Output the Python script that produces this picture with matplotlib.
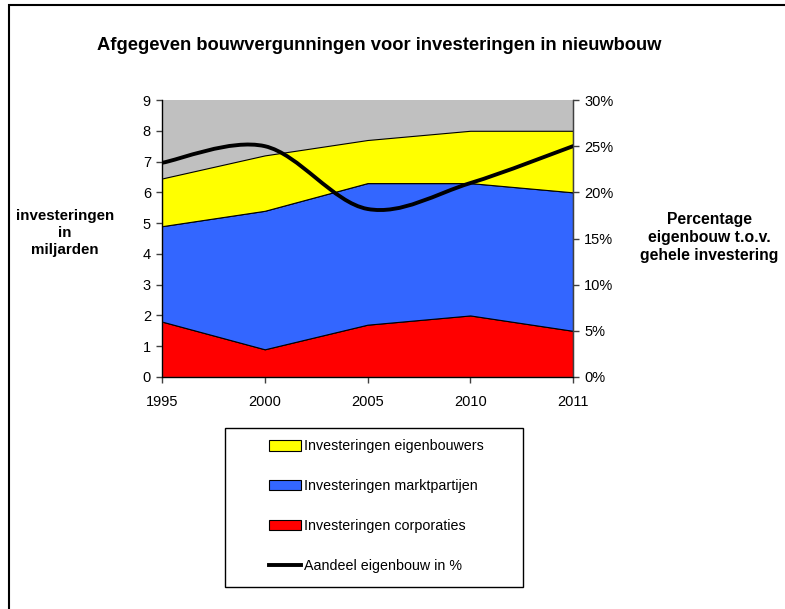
import matplotlib
matplotlib.use('Agg')
import matplotlib.pyplot as plt
from matplotlib.path import Path
from matplotlib.patches import PathPatch, Rectangle, Patch
from matplotlib.lines import Line2D
from matplotlib.ticker import FuncFormatter
import numpy as np

plt.rcParams['font.family'] = ['Liberation Sans', 'DejaVu Sans']

# gegevens (miljarden euro)
jaren = ['1995', '2000', '2005', '2010', '2011']
corporaties = [1.8, 0.9, 1.7, 2.0, 1.5]
marktpartijen = [3.1, 4.5, 4.6, 4.3, 4.5]
eigenbouwers = [1.55, 1.8, 1.4, 1.7, 2.0]
aandeel_eigenbouw = [23.2, 25.0, 18.2, 21.0, 25.0]  # procent

W, H = 785, 609
fig = plt.figure(figsize=(W / 100, H / 100), dpi=100)

# plotgebied in pixels
links, rechts, boven, onder = 162, 573, 100, 377
ax = fig.add_axes([links / W, 1 - onder / H, (rechts - links) / W, (onder - boven) / H])

x = np.arange(len(jaren))
ax.set_facecolor('#C0C0C0')
ax.stackplot(x, corporaties, marktpartijen, eigenbouwers,
             colors=['#FF0000', '#3366FF', '#FFFF00'],
             edgecolor='black', linewidth=0.8)
ax.set_xlim(0, len(jaren) - 1)
ax.set_ylim(0, 9)
ax.set_yticks(range(0, 10))
ax.set_xticks(x)
ax.set_xticklabels(jaren)
ax.spines['top'].set_visible(False)
for s in ['left', 'bottom', 'right']:
    ax.spines[s].set_color('#404040')
    ax.spines[s].set_linewidth(1.0)
ax.tick_params(axis='both', labelsize=10.5, length=4, width=1, color='#404040')
ax.tick_params(axis='x', pad=9)
ax.tick_params(axis='y', pad=4)

# tweede as voor het percentage
ax2 = ax.twinx()
ax2.set_ylim(0, 30)
ax2.set_yticks(range(0, 31, 5))
ax2.yaxis.set_major_formatter(FuncFormatter(lambda v, p: f'{int(v)}%'))
ax2.spines['top'].set_visible(False)
ax2.spines['right'].set_color('#404040')
ax2.tick_params(axis='y', labelsize=10.5, length=4, width=1, color='#404040', pad=4)

# afgevlakte lijn (Bezier, zoals Excel)
pts = np.column_stack([x, aandeel_eigenbouw]).astype(float)
verts = [pts[0]]
codes = [Path.MOVETO]
n = len(pts)
for i in range(n - 1):
    p_prev = pts[max(i - 1, 0)]
    p0 = pts[i]
    p1 = pts[i + 1]
    p_next = pts[min(i + 2, n - 1)]
    c1 = p0 + (p1 - p_prev) / 6
    c2 = p1 - (p_next - p0) / 6
    verts += [c1, c2, p1]
    codes += [Path.CURVE4] * 3
ax2.add_patch(PathPatch(Path(verts, codes), facecolor='none', edgecolor='black',
                        linewidth=2.8, capstyle='round', joinstyle='round'))

# titels
fig.text(379 / W, 1 - 45 / H, 'Afgegeven bouwvergunningen voor investeringen in nieuwbouw',
         ha='center', va='center', fontsize=13.2, fontweight='bold')
fig.text(65 / W, 1 - 233 / H, 'investeringen\nin\nmiljarden', ha='center', va='center',
         fontsize=10.9, fontweight='bold', linespacing=1.3)
fig.text(709 / W, 1 - 237 / H, 'Percentage\neigenbouw t.o.v.\ngehele investering',
         ha='center', va='center', fontsize=11.3, fontweight='bold', linespacing=1.25)

# legenda met eigen kader
fig.patches.append(Rectangle((225 / W, 1 - 587 / H), (523 - 225) / W, (587 - 428) / H,
                             transform=fig.transFigure, facecolor='white',
                             edgecolor='black', linewidth=1.0, zorder=1))
handles = [
    Patch(facecolor='#FFFF00', edgecolor='black', linewidth=0.8),
    Patch(facecolor='#3366FF', edgecolor='black', linewidth=0.8),
    Patch(facecolor='#FF0000', edgecolor='black', linewidth=0.8),
    Line2D([], [], color='black', linewidth=2.8),
]
labels = ['Investeringen eigenbouwers', 'Investeringen marktpartijen',
          'Investeringen corporaties', 'Aandeel eigenbouw in %']
leg = fig.legend(handles, labels, loc='center left',
                 bbox_to_anchor=(262 / W, 1 - 506 / H), frameon=False,
                 fontsize=10.3, labelspacing=1.8, handlelength=2.2,
                 handleheight=0.75, handletextpad=0.25, borderpad=0)
leg.set_zorder(2)

# buitenrand (links en boven)
fig.patches.append(Rectangle((9 / W, -0.1), 1.2, 1 - 5 / H + 0.1,
                             transform=fig.transFigure, facecolor='none',
                             edgecolor='black', linewidth=1.5, zorder=0))

fig.savefig('out.png', dpi=100)
